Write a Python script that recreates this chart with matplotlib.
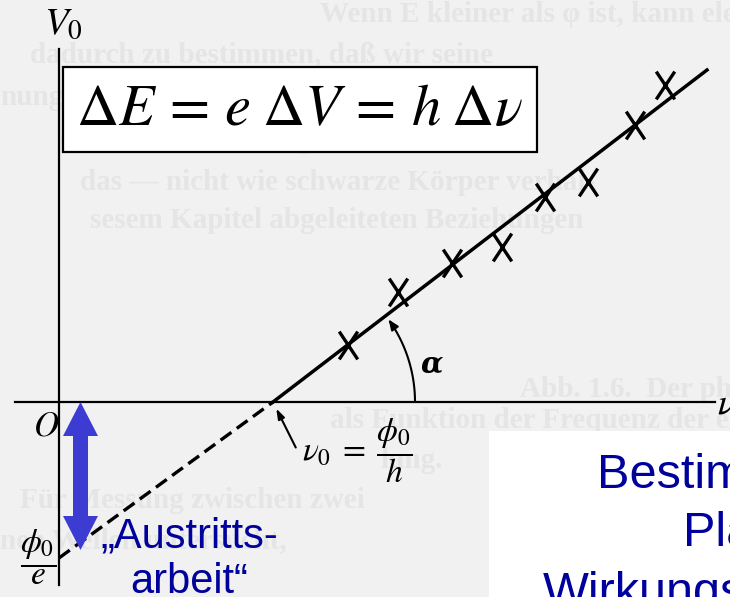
import numpy as np
import matplotlib.pyplot as plt
from matplotlib.patches import Rectangle, Polygon, FancyArrowPatch
from matplotlib.path import Path

plt.rcParams['mathtext.fontset'] = 'stix'

# measured points (frequency nu, stopping voltage V0), arbitrary units
nu_meas = [2.89, 3.39, 3.93, 4.43, 4.86, 5.29, 5.76, 6.06]
v_meas = [0.57, 1.10, 1.39, 1.55, 2.05, 2.20, 2.77, 3.17]

# straight-line fit: intercept -phi0/e, threshold nu0, end of drawn line
nu0 = 2.14
phi0_e = 1.56
nu_end = 6.48
v_end = 3.32

BLUE_TXT = '#00009c'
BLUE_ARR = '#3c3cd2'
BG = '#f1f1f1'
GHOST = '#e5e5e5'


def px(x, y):
    # pixel position of the scan -> data coordinates
    return (x - 59) / 100, (402 - y) / 100


fig = plt.figure(figsize=(7.30, 5.97), dpi=100, facecolor=BG)
ax = fig.add_axes([0, 0, 1, 1])
ax.set_facecolor(BG)
ax.set_xlim(-0.59, 6.71)
ax.set_ylim(-1.95, 4.02)
ax.axis('off')

# faint text showing through from the scanned page
ghost = [
    (320, 22, 'Wenn E kleiner als φ ist, kann elektrische'),
    (30, 62, 'dadurch zu bestimmen, daß wir seine'),
    (0, 105, 'nung'),
    (60, 148, 'dieser                Körper wie'),
    (80, 190, 'das — nicht wie schwarze Körper verhal-'),
    (90, 228, 'sesem Kapitel abgeleiteten Beziehungen'),
    (520, 397, 'Abb. 1.6.  Der photoelektrische Strom-'),
    (330, 428, 'als Funktion der Frequenz der einfal-'),
    (380, 468, 'lung.'),
    (20, 508, 'Für Messung zwischen zwei'),
    (0, 548, 'nen Wellen untersucht,'),
]
for gx, gy, gt in ghost:
    ax.text(*px(gx, gy), gt, fontsize=21, family='Liberation Serif',
            weight='bold', color=GHOST, ha='left', va='baseline', zorder=0)

# axes
ax.plot([0, 0], [px(0, 585)[1], px(0, 49)[1]], color='black', lw=1.6, zorder=2)
ax.plot([px(15, 0)[0], px(715, 0)[0]], [0, 0], color='black', lw=1.6, zorder=2)

# fit line: dashed extrapolation and solid part
ax.plot([0, nu0], [-phi0_e, 0], color='black', lw=2.4, ls=(0, (4, 2)), zorder=3)
ax.plot([nu0, nu_end], [0, v_end], color='black', lw=2.5, zorder=3)

# measured points as X marks
xmark = Path([(-2, -3), (2, 3), (-2, 3), (2, -3)],
             [Path.MOVETO, Path.LINETO, Path.MOVETO, Path.LINETO])
ax.plot(nu_meas, v_meas, ls='none', marker=xmark, ms=20, mew=2.4,
        color='black', zorder=4)

# angle alpha
r = 1.42
th = np.radians(np.linspace(0, 35.5, 40))
arc = Path(np.column_stack([nu0 + r * np.cos(th), r * np.sin(th)]))
ax.add_patch(FancyArrowPatch(path=arc, arrowstyle='-|>,head_length=6,head_width=2.5',
                             color='black', lw=1.5, zorder=4))
ax.text(*px(421, 372), 'α', fontsize=21, family='DejaVu Serif', style='italic',
        weight='bold', color='black', ha='left', va='baseline')

# nu0 pointer
ax.annotate('', xy=(nu0 + 0.02, -0.04), xytext=px(297, 450),
            arrowprops=dict(arrowstyle='-|>,head_length=0.6,head_width=0.2',
                            color='black', lw=1.5))
ax.text(*px(302, 451), r'$\nu_0\;=\;\dfrac{\phi_0}{h}$', fontsize=24,
        ha='left', va='center')

# axis labels
ax.text(*px(44, 34), r'$V_0$', fontsize=28, ha='left', va='baseline')
ax.text(*px(717, 413), r'$\nu$', fontsize=26, ha='left', va='baseline')
ax.text(*px(33, 436), r'$O$', fontsize=25, ha='left', va='baseline')
ax.text(*px(38, 557), r'$\dfrac{\phi_0}{e}$', fontsize=24, ha='center', va='center')

# equation box
x0, y0 = px(63, 152)
x1, y1 = px(537, 67)
ax.add_patch(Rectangle((x0, y0), x1 - x0, y1 - y0, facecolor='white',
                       edgecolor='black', lw=1.6, zorder=5))
ax.text(*px(299, 125), r'$\Delta E\, =\, e\;\Delta V\, =\, h\;\Delta\nu$', fontsize=42,
        ha='center', va='baseline', zorder=6)

# blue double arrow: work function
xc = px(80.5, 0)[0]
yt, yb = 0.0, px(0, 550)[1]
hw, sw, hl = 0.175, 0.075, 0.34
ax.add_patch(Polygon([(xc, yt), (xc + hw, yt - hl), (xc + sw, yt - hl),
                      (xc + sw, yb + hl), (xc + hw, yb + hl), (xc, yb),
                      (xc - hw, yb + hl), (xc - sw, yb + hl), (xc - sw, yt - hl),
                      (xc - hw, yt - hl)], closed=True, facecolor=BLUE_ARR,
                     edgecolor='none', zorder=6))
ax.text(*px(189, 593), '„Austritts-\narbeit“', fontsize=30,
        family='Liberation Sans', color=BLUE_TXT, ha='center', va='baseline',
        multialignment='center', linespacing=1.18, zorder=7)

# white box with title text, bottom right
bx, by = px(489, 600)
bx1, by1 = px(740, 431)
ax.add_patch(Rectangle((bx, by), bx1 - bx, by1 - by, facecolor='white',
                       edgecolor='none', zorder=5))
for tx, ty, tt in [(597, 488, 'Bestimmung des'), (683, 546, 'Planckschen'),
                   (543, 606, 'Wirkungsquantums')]:
    ax.text(*px(tx, ty), tt, fontsize=35, family='Liberation Sans',
            color=BLUE_TXT, ha='left', va='baseline', zorder=6)

fig.savefig('out.png', dpi=100, facecolor=BG)
